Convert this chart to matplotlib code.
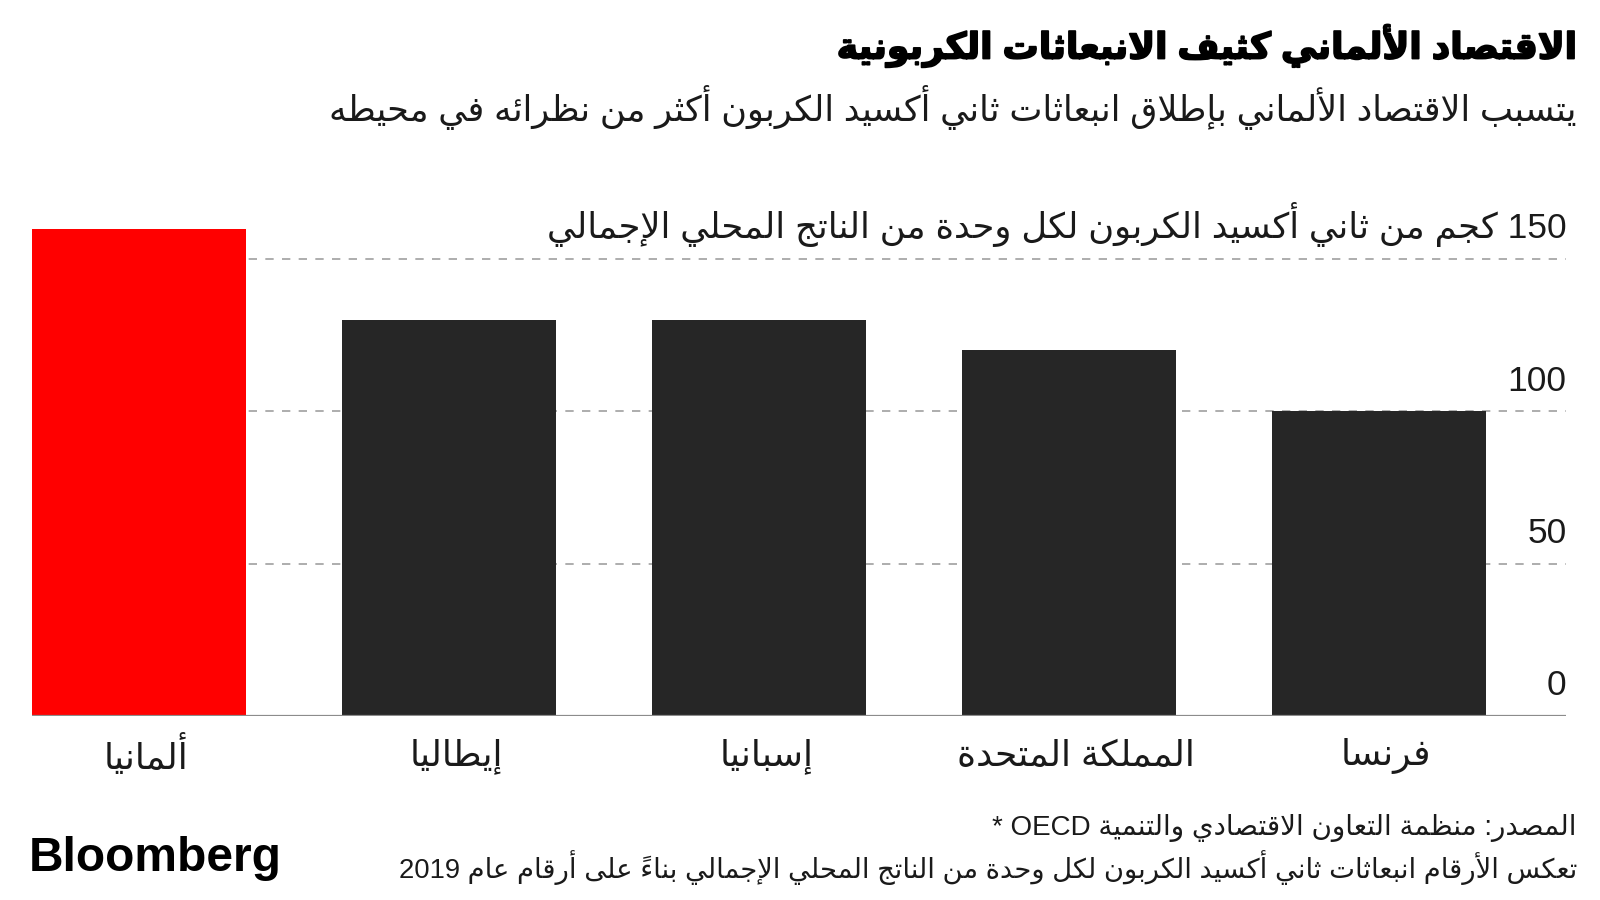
import matplotlib
matplotlib.use("Agg")
import matplotlib.pyplot as plt
import matplotlib.transforms as mtransforms
import matplotlib.patheffects as pe

plt.rcParams['font.family'] = ['Liberation Sans', 'DejaVu Sans']

# chart data
countries = ['ألمانيا', 'إيطاليا', 'إسبانيا', 'المملكة المتحدة', 'فرنسا']
co2_per_gdp = [160, 130, 130, 120, 100]
bar_colors = ['#ff0000', '#262626', '#262626', '#262626', '#262626']
yticks = [0, 50, 100, 150]
ytick_labels = ['0', '50', '100', '150 كجم من ثاني أكسيد الكربون لكل وحدة من الناتج المحلي الإجمالي']

title = 'الاقتصاد الألماني كثيف الانبعاثات الكربونية'
subtitle = 'يتسبب الاقتصاد الألماني بإطلاق انبعاثات ثاني أكسيد الكربون أكثر من نظرائه في محيطه'
source = 'المصدر: منظمة التعاون الاقتصادي والتنمية OECD *'
note = 'تعكس الأرقام انبعاثات ثاني أكسيد الكربون لكل وحدة من الناتج المحلي الإجمالي بناءً على أرقام عام 2019'


# matplotlib has no arabic shaping, so map letters to presentation forms
# and reverse to visual order by hand
RIGHT_JOIN = {'\u0622': 0xFE81, '\u0623': 0xFE83, '\u0624': 0xFE85, '\u0625': 0xFE87,
              '\u0627': 0xFE8D, '\u0629': 0xFE93, '\u062F': 0xFEA9, '\u0630': 0xFEAB,
              '\u0631': 0xFEAD, '\u0632': 0xFEAF, '\u0648': 0xFEED, '\u0649': 0xFEEF}
DUAL_JOIN = {'\u0626': 0xFE89, '\u0628': 0xFE8F, '\u062A': 0xFE95, '\u062B': 0xFE99,
             '\u062C': 0xFE9D, '\u062D': 0xFEA1, '\u062E': 0xFEA5, '\u0633': 0xFEB1,
             '\u0634': 0xFEB5, '\u0635': 0xFEB9, '\u0636': 0xFEBD, '\u0637': 0xFEC1,
             '\u0638': 0xFEC5, '\u0639': 0xFEC9, '\u063A': 0xFECD, '\u0641': 0xFED1,
             '\u0642': 0xFED5, '\u0643': 0xFED9, '\u0644': 0xFEDD, '\u0645': 0xFEE1,
             '\u0646': 0xFEE5, '\u0647': 0xFEE9, '\u064A': 0xFEF1}
LAM_ALEF = {'\u0622': 0xFEF5, '\u0623': 0xFEF7, '\u0625': 0xFEF9, '\u0627': 0xFEFB}


def ar(s):
    units = []
    i = 0
    while i < len(s):
        c = s[i]
        if c == '\u0644' and i + 1 < len(s) and s[i + 1] in LAM_ALEF:
            units.append([LAM_ALEF[s[i + 1]], 'R', ''])
            i += 2
            continue
        if '\u064B' <= c <= '\u0652' and units:
            units[-1][2] += c
        elif c in DUAL_JOIN:
            units.append([DUAL_JOIN[c], 'D', ''])
        elif c in RIGHT_JOIN:
            units.append([RIGHT_JOIN[c], 'R', ''])
        else:
            units.append([c, 'N', ''])
        i += 1

    glyphs = []
    for k, (g, j, m) in enumerate(units):
        if j == 'N':
            glyphs.append((g, m))
            continue
        prev = k > 0 and units[k - 1][1] == 'D'
        nxt = j == 'D' and k + 1 < len(units) and units[k + 1][1] in ('D', 'R')
        off = {(False, False): 0, (True, False): 1, (False, True): 2, (True, True): 3}[(prev, nxt)]
        glyphs.append((chr(g + off), m))

    visual = []
    run = ''
    for ch, m in glyphs:
        if ch.isascii() and ch.isalnum():
            run += ch
        else:
            if run:
                visual.append(run)
                run = ''
            # zero-width mark goes first so it sits over its base letter
            visual.append(m + ch)
    if run:
        visual.append(run)
    return ''.join(reversed(visual))


fig = plt.figure(figsize=(16, 9), dpi=100)
ax = fig.add_axes([0.02, 0.2044, 0.959, 0.5586])

x = list(range(len(countries)))
ax.bar(x, co2_per_gdp, width=0.69, color=bar_colors, zorder=2)
ax.set_xlim(-0.345, 4.603)
ax.set_ylim(0, 165)

for v in yticks[1:]:
    ax.axhline(v, color='#a0a0a0', lw=1.2, ls=(0, (5, 5)), zorder=1)
ax.axhline(0, color='#8c8c8c', lw=1.6, zorder=3)

for s in ax.spines.values():
    s.set_visible(False)
ax.set_xticks([])
ax.set_yticks([])

trans = mtransforms.blended_transform_factory(ax.transAxes, ax.transData)
for v, lab in zip(yticks, ytick_labels):
    ax.annotate(ar(lab), xy=(1.0, v), xycoords=trans, xytext=(0, 15),
                textcoords='offset points', ha='right', va='baseline',
                fontsize=25.5, color='#1a1a1a')

for xi, name in zip(x, countries):
    ax.annotate(ar(name), xy=(xi, 0), xytext=(5, -29), textcoords='offset points',
                ha='center', va='center', fontsize=26, color='#1a1a1a')

fig.text(0.9856, 0.949, ar(title), ha='right', va='center', fontsize=26,
         fontweight='bold', color='black',
         path_effects=[pe.withStroke(linewidth=1.3, foreground='black')])
fig.text(0.9856, 0.881, ar(subtitle), ha='right', va='center', fontsize=25.3,
         color='#1a1a1a')
fig.text(0.9856, 0.080, ar(source), ha='right', va='center', fontsize=20,
         color='#1a1a1a')
fig.text(0.9856, 0.036, ar(note), ha='right', va='center', fontsize=19.7,
         color='#1a1a1a')
fig.text(0.018, 0.046, 'Bloomberg', ha='left', va='center', fontsize=34.5,
         fontweight='bold', family='Liberation Sans', color='black')

fig.savefig('out.png', dpi=100)
